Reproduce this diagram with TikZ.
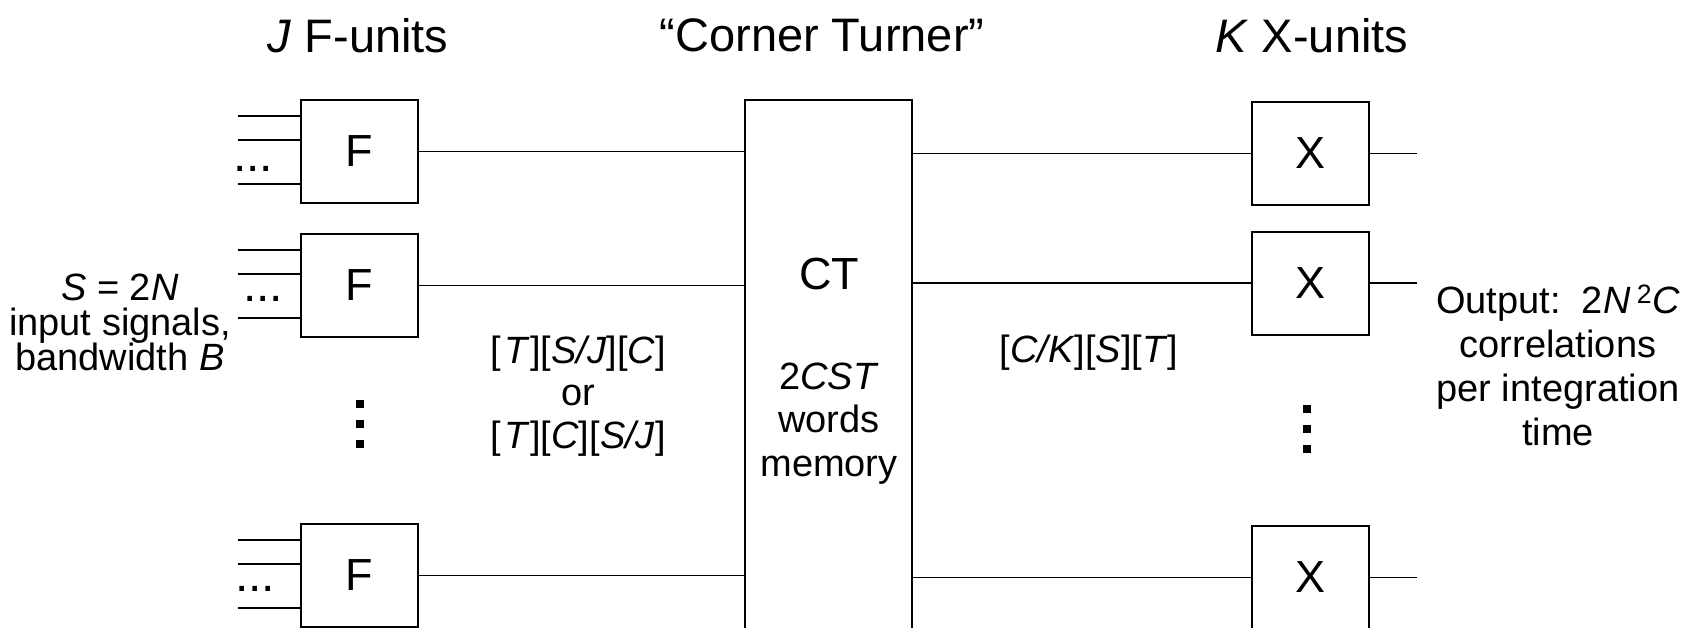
\documentclass[tikz,border=0pt]{standalone}
\usepackage{fontspec}
\setmainfont{Liberation Sans}
\begin{document}
\begin{tikzpicture}[x=1pt,y=-1pt,
  unit/.style={draw,line width=2pt,minimum width=117pt,minimum height=103pt,inner sep=0pt,
    font=\fontsize{45}{54}\selectfont},
  wire/.style={line width=1.8pt},
  title/.style={font=\fontsize{47}{56}\selectfont,anchor=base,inner sep=0pt},
  side/.style={font=\fontsize{38}{44}\selectfont,anchor=base,inner sep=0pt},
  big/.style={font=\fontsize{45}{54}\selectfont,anchor=base,inner sep=0pt},
  hdots/.style={font=\fontsize{48}{54}\selectfont,anchor=base west,inner sep=0pt}
]
\useasboundingbox (0,0) rectangle (1686,627);
\clip (0,0) rectangle (1686,627);

% column titles
\node[title] (tJ) at (358,52) {\textit{J} F-units};
\node[title] (tCT) at (822,51) {“Corner Turner”};
\node[title] (tK) at (1312,52) {\textit{K} X-units};

% F-units
\node[unit] (f1) at (359.5,151.5) {F};
\node[unit] (f2) at (359.5,285.5) {F};
\node[unit] (f3) at (359.5,575.5) {F};

% corner turner memory
\node[draw,line width=2pt,minimum width=167pt,minimum height=560pt,inner sep=0pt] (ct) at (828.5,380) {};
\node[big] (ctname) at (829,289) {CT};
\node[side] (ctm1) at (829,389) {2\textit{CST}};
\node[side] (ctm2) at (829,432) {words};
\node[side] (ctm3) at (829,476) {memory};

% X-units
\node[unit] (x1) at (1310.5,153.5) {X};
\node[unit] (x2) at (1310.5,283) {X};
\node[unit] (x3) at (1310.5,577.5) {X};

% input signal lines
\foreach \f/\y in {f1/151.5,f2/285.5,f3/575.5}{
  \coordinate (\f a) at (238,\y-35.5);
  \coordinate (\f b) at (238,\y-11.5);
  \coordinate (\f c) at (238,\y+32.5);
  \draw[wire] (\f a) -- (\f a -| \f.west);
  \draw[wire] (\f b) -- (\f b -| \f.west);
  \draw[wire] (\f c) -- (\f c -| \f.west);
}
\node[hdots] (d1) at (233,171) {...};
\node[hdots] (d2) at (243,301) {...};
\node[hdots] (d3) at (235,591) {...};

% F-units to corner turner
\draw[wire] (f1.east) -- (f1.east -| ct.west);
\draw[wire] (f2.east) -- (f2.east -| ct.west);
\draw[wire] (f3.east) -- (f3.east -| ct.west);

% corner turner to X-units
\draw[wire] (x1.west -| ct.east) -- (x1.west);
\draw[wire] (x2.west -| ct.east) -- (x2.west);
\draw[wire] (x3.west -| ct.east) -- (x3.west);

% correlator outputs
\coordinate (o1) at (1417,153.5);
\coordinate (o2) at (1417,283);
\coordinate (o3) at (1417,577.5);
\draw[wire] (x1.east) -- (o1);
\draw[wire] (x2.east) -- (o2);
\draw[wire] (x3.east) -- (o3);

% vertical ellipses
\foreach \yy in {404,424,444}{\fill (356,\yy-4) rectangle (364,\yy+4);}
\foreach \yy in {408.5,428.5,448.5}{\fill (1303,\yy-4) rectangle (1311,\yy+4);}

% labels
\node[side] (in1) at (120,300) {\textit{S} = 2\textit{N}};
\node[side] (in2) at (120,335) {input signals,};
\node[side] (in3) at (120,370) {bandwidth \textit{B}};

\node[side] (ord1) at (578,363) {[\hspace{4pt}\textit{T}][\textit{S/J}][\textit{C}]};
\node[side] (ord2) at (578,405) {or};
\node[side] (ord3) at (578,448) {[\hspace{4pt}\textit{T}][\textit{C}][\textit{S/J}]};

\node[side] (ord4) at (1089,362) {[\textit{C/K}][\textit{S}][\textit{T}]};

\node[side] (out1) at (1558,313) {Output:\ \ 2\textit{N}\,\textsuperscript{2}\textit{C}};
\node[side] (out2) at (1558,357) {correlations};
\node[side] (out3) at (1558,401) {per integration};
\node[side] (out4) at (1558,445) {time};
\end{tikzpicture}
\end{document}
